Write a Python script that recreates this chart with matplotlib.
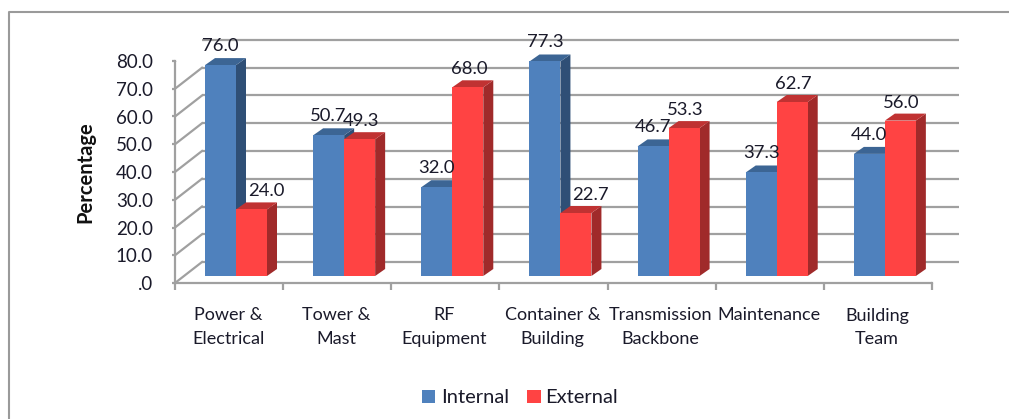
"""Internal vs external share by work category, drawn as 3D style columns"""
import numpy as np
import matplotlib
matplotlib.use('Agg')
import matplotlib.pyplot as plt
from matplotlib.patches import Polygon, Rectangle
from matplotlib.transforms import ScaledTranslation

CATEGORIES = ['Power &\nElectrical', 'Tower &\nMast', 'RF\nEquipment', 'Container &\nBuilding',
              'Transmission\nBackbone', 'Maintenance', 'Building\nTeam']
INTERNAL = [76.0, 50.7, 32.0, 77.3, 46.7, 37.3, 44.0]
EXTERNAL = [24.0, 49.3, 68.0, 22.7, 53.3, 62.7, 56.0]
Y_TICKS = [0, 10, 20, 30, 40, 50, 60, 70, 80]
Y_TICK_LABELS = ['.0', '10.0', '20.0', '30.0', '40.0', '50.0', '60.0', '70.0', '80.0']

W, H = 1009, 419
BLUE, BLUE_TOP, BLUE_SIDE = '#4f81bd', '#3c6594', '#2f4f76'
RED, RED_TOP, RED_SIDE = '#ff4343', '#c03232', '#a02a2a'
GRID = '#a0a0a0'
TEXT = '#1a1a2a'

plt.rcParams['font.family'] = ['Lato', 'DejaVu Sans']

fig = plt.figure(figsize=(W / 100, H / 100), dpi=100)
ax = fig.add_axes([175 / W, 1 - 283 / H, (932 - 175) / W, (283 - 61) / H])
ax.set_xlim(0, 7)
ax.set_ylim(0, 80)
ax.patch.set_visible(False)

# depth of the box and of the bars, in pixels
BOX_DX, BOX_DY = 27, 21
BAR_DX, BAR_DY = 10, 7
BAR_W = 31 / 108.14
BAR_LEFT = 30 / 108.14


def shifted(dx, dy):
    return ax.transData + ScaledTranslation(dx / 100, dy / 100, fig.dpi_scale_trans)


# back wall gridlines, the slanted bits on the side wall and on the floor
for t in Y_TICKS:
    ax.plot([0, 7], [t, t], color=GRID, lw=1.6, transform=shifted(BOX_DX, BOX_DY), zorder=1,
            clip_on=False, solid_capstyle='butt')
    x0, y0 = ax.transData.transform((0, t))
    ax.add_line(plt.Line2D([x0, x0 + BOX_DX], [y0, y0 + BOX_DY], color=GRID, lw=1.6, transform=None,
                           zorder=1))
x1, y1 = ax.transData.transform((7, 0))
ax.add_line(plt.Line2D([x1, x1 + BOX_DX], [y1, y1 + BOX_DY], color=GRID, lw=1.6, transform=None, zorder=1))


def bar_3d(left, value, front, top, side, zorder):
    base = shifted(BAR_DX, BAR_DY)
    px = lambda x, y, dx=0, dy=0: base.transform((x, y)) + np.array([dx, dy])
    right = left + BAR_W
    top_pts = [px(left, value), px(right, value), px(right, value, BAR_DX, BAR_DY), px(left, value, BAR_DX, BAR_DY)]
    side_pts = [px(right, 0), px(right, value), px(right, value, BAR_DX, BAR_DY), px(right, 0, BAR_DX, BAR_DY)]
    ax.add_patch(Polygon(side_pts, closed=True, fc=side, ec='none', transform=None, zorder=zorder, clip_on=False))
    ax.add_patch(Polygon(top_pts, closed=True, fc=top, ec='none', transform=None, zorder=zorder, clip_on=False))
    ax.add_patch(Rectangle((left, 0), BAR_W, value, fc=front, ec='none', transform=base, zorder=zorder + 0.1,
                           clip_on=False))


for i, (v_in, v_ex) in enumerate(zip(INTERNAL, EXTERNAL)):
    bar_3d(i + BAR_LEFT - BAR_DX / 108.14, v_in, BLUE, BLUE_TOP, BLUE_SIDE, 3)
    bar_3d(i + BAR_LEFT - BAR_DX / 108.14 + BAR_W, v_ex, RED, RED_TOP, RED_SIDE, 4)

    # value labels sit above the bar tops, a short red bar next to a tall blue one pushes its label right
    nudge = 15 if v_in - v_ex > 40 else 1
    ax.annotate(f'{v_in:.1f}', (i + BAR_LEFT + 0.5 * BAR_W, v_in), xytext=(0, 26), textcoords='offset pixels',
                ha='center', va='center', fontsize=13.3, color=TEXT, zorder=6)
    ax.annotate(f'{v_ex:.1f}', (i + BAR_LEFT + 1.5 * BAR_W, v_ex), xytext=(nudge, 25), textcoords='offset pixels',
                ha='center', va='center', fontsize=13.3, color=TEXT, zorder=6)

ax.set_xticks(np.arange(8))
ax.set_xticklabels([])
ax.set_yticks(Y_TICKS)
ax.set_yticklabels(Y_TICK_LABELS, fontsize=13.5, color=TEXT)
ax.tick_params(axis='x', length=5, width=1.6, color=GRID)
ax.tick_params(axis='y', length=2, width=1.6, color=GRID, pad=14)
for name in ['top', 'right']:
    ax.spines[name].set_visible(False)
for name in ['left', 'bottom']:
    ax.spines[name].set_color(GRID)
    ax.spines[name].set_linewidth(1.6)

for i, label in enumerate(CATEGORIES):
    fig.text((175 + (i + 0.5) * 108.14 - 1) / W, 1 - 307.5 / H, label, ha='center', va='top', fontsize=13,
             color=TEXT, linespacing=1.58)

fig.text(85 / W, 1 - 172 / H, 'Percentage', rotation=90, ha='center', va='center', fontsize=14.5,
         fontweight='bold', color='#111111')

# legend drawn by hand so it lines up under the chart
fig.patches.append(Rectangle((422 / W, 1 - 403 / H), 13 / W, 13 / H, fc=BLUE, ec='none', transform=fig.transFigure))
fig.patches.append(Rectangle((527 / W, 1 - 403 / H), 14 / W, 13 / H, fc=RED, ec='none', transform=fig.transFigure))
fig.text(441 / W, 1 - 397 / H, 'Internal', ha='left', va='center', fontsize=14.5, color=TEXT)
fig.text(545 / W, 1 - 397 / H, 'External', ha='left', va='center', fontsize=14.5, color=TEXT)

# outer chart frame
fig.add_artist(plt.Line2D([8.5 / W, 8.5 / W, 1], [0, 1 - 12 / H, 1 - 12 / H], color='#9a9a9a', lw=1.5))

fig.savefig('out.png', dpi=100)
